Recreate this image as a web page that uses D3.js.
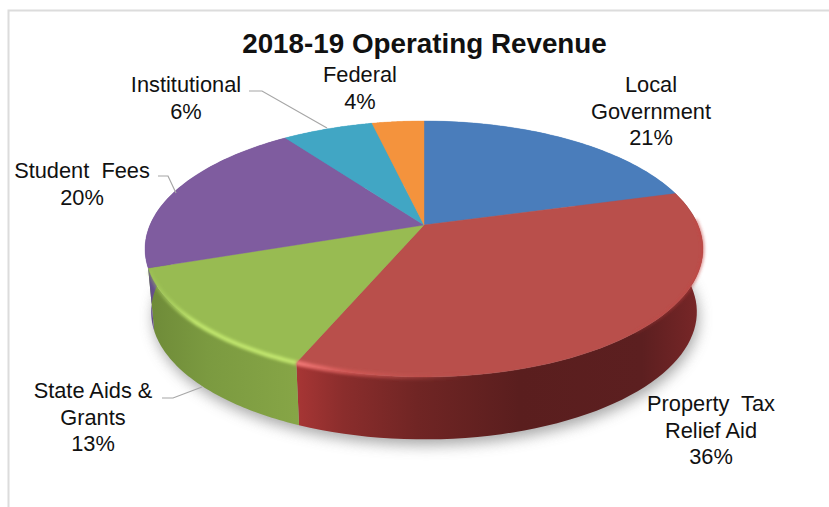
<!DOCTYPE html>
<html><head><meta charset="utf-8">
<script src="https://cdn.jsdelivr.net/npm/d3@7"></script>
<style>html,body{margin:0;padding:0;background:#fff}svg{display:block}
text{font-family:"Liberation Sans",Arial,sans-serif;fill:#111}</style></head>
<body><svg id="c" width="829" height="507"></svg>
<script>
const chartTitle = "2018-19 Operating Revenue";
const categories = ["Local Government","Property Tax Relief Aid","State Aids & Grants","Student Fees","Institutional","Federal"];
const values = [20.7,35.6,13.4,20.4,6.3,3.6];
const topColors = ["#4a7dbb","#b94f4b","#98bb52","#7f5c9f","#41a6c4","#f4933d"];
const labelLines = [["Local","Government"],["Property  Tax","Relief Aid"],["State Aids &","Grants"],["Student  Fees"],["Institutional"],["Federal"]];
const labelAnchors = [[651,92],[711,411],[93,398],[82,178],[186,92],[360,82]];
const leaders = [null,null,[[162,398],[173,398],[202,387]],[[158,176],[168,176],[176,193]],[[249,91],[262,91],[327,128]],null];

const svg = d3.select("#c"), defs = svg.append("defs");
const pct = d3.format(".0f");

// frame
svg.append("path").attr("d","M8.5,507V10.5H829").attr("fill","none").attr("stroke","#dcdcdc").attr("stroke-width",2);

// perspective projection of the unit disc
const K = 0.1875;
function projector(cx,cy,A,B){return t=>{const u=Math.sin(t),v=-Math.cos(t),w=1-K*v;return [cx+A*u/w,cy+B*v/w];};}
const topP = projector(424,225,274,123.5);
const botP = projector(424,288,268,123);
const apex = [424,225];
const pie = d3.pie().sort(null).value(d=>d);
const arcs = pie(values);
const line = d3.line();
const samples = (a0,a1)=>d3.range(0,61).map(i=>a0+(a1-a0)*i/60);

// filters
const blur=(id,s)=>defs.append("filter").attr("id",id).attr("x","-20%").attr("y","-20%").attr("width","140%").attr("height","140%")
  .append("feGaussianBlur").attr("stdDeviation",s);
blur("shadow",7); blur("soft",1.6);

const grad=(id,x1,x2,stops)=>{const g=defs.append("linearGradient").attr("id",id).attr("gradientUnits","userSpaceOnUse")
  .attr("x1",x1).attr("x2",x2).attr("y1",0).attr("y2",0);
  stops.forEach(([o,c,op])=>g.append("stop").attr("offset",o).attr("stop-color",c).attr("stop-opacity",op==null?1:op));};
grad("wall1",295,703,[[0,"#a83635"],[.12,"#8a2d2c"],[.3,"#702524"],[.55,"#5a1e1e"],[.85,"#5c1f20"],[1,"#7a2728"]]);
grad("wall2",148,296,[[0,"#6e8a38"],[.4,"#7b9a40"],[1,"#86a546"]]);
grad("wall3",145,160,[[0,"#5e4a86"],[1,"#6a5290"]]);
grad("rim1",295,470,[[0,"#f47a78",1],[.3,"#d85b58",.8],[1,"#b94f4b",0]]);
grad("rim2",150,296,[[0,"#a8cf5c",.3],[.3,"#bfe56c",1],[1,"#c2e66e",1]]);
grad("rim1b",600,703,[[0,"#c4423f",0],[1,"#c4423f",.6]]);

// ground shadow
svg.append("path").datum(samples(0,2*Math.PI))
  .attr("d",a=>line(a.map(t=>{const p=botP(t);return [p[0]+2,p[1]+6];}))+"Z")
  .attr("fill","#8c8c8c").attr("opacity",.75).attr("filter","url(#shadow)");

// side walls
const wallFill=["#4a7dbb","url(#wall1)","url(#wall2)","url(#wall3)","#41a6c4","#f4933d"];
svg.append("g").selectAll("path").data(arcs).join("path")
  .attr("d",d=>{const s=samples(d.startAngle,d.endAngle);
    return line(s.map(topP).concat(s.slice().reverse().map(botP)))+"Z";})
  .attr("fill",(d,i)=>wallFill[i]);

// top faces
svg.append("g").selectAll("path").data(arcs).join("path")
  .attr("d",d=>line([apex].concat(samples(d.startAngle,d.endAngle).map(topP)))+"Z")
  .attr("fill",(d,i)=>topColors[i])
  .attr("stroke",(d,i)=>topColors[i]).attr("stroke-width",.4);

// bevel highlights along the front rim
const rim=(i,f0,f1,paint,w)=>{const d=arcs[i],a0=d.startAngle+(d.endAngle-d.startAngle)*f0,a1=d.startAngle+(d.endAngle-d.startAngle)*f1;
  svg.append("path").attr("d",line(samples(a0,a1).map(topP))).attr("fill","none").attr("stroke",paint)
   .attr("stroke-width",w).attr("filter","url(#soft)").attr("stroke-linecap","butt");};
rim(1,.1,.5,"url(#rim1b)",3);
rim(1,.55,1,"url(#rim1)",5);
rim(2,0,.97,"url(#rim2)",4.5);

// leader lines
svg.append("g").selectAll("path").data(leaders.filter(Boolean)).join("path")
  .attr("d",d=>line(d)).attr("fill","none").attr("stroke","#a6a6a6").attr("stroke-width",1.2);

// title
svg.append("text").attr("x",424.5).attr("y",53).attr("text-anchor","middle")
  .attr("font-size",27.8).attr("font-weight",700).text(chartTitle);

// labels
const LH=26.5;
categories.forEach((c,i)=>{
  const t=svg.append("text").attr("text-anchor","middle").attr("font-size",21.8).style("white-space","pre");
  const lines=labelLines[i].concat([pct(values[i])+"%"]);
  lines.forEach((l,j)=>t.append("tspan").attr("x",labelAnchors[i][0]).attr("y",labelAnchors[i][1]+j*LH).text(l));
});
</script></body></html>
